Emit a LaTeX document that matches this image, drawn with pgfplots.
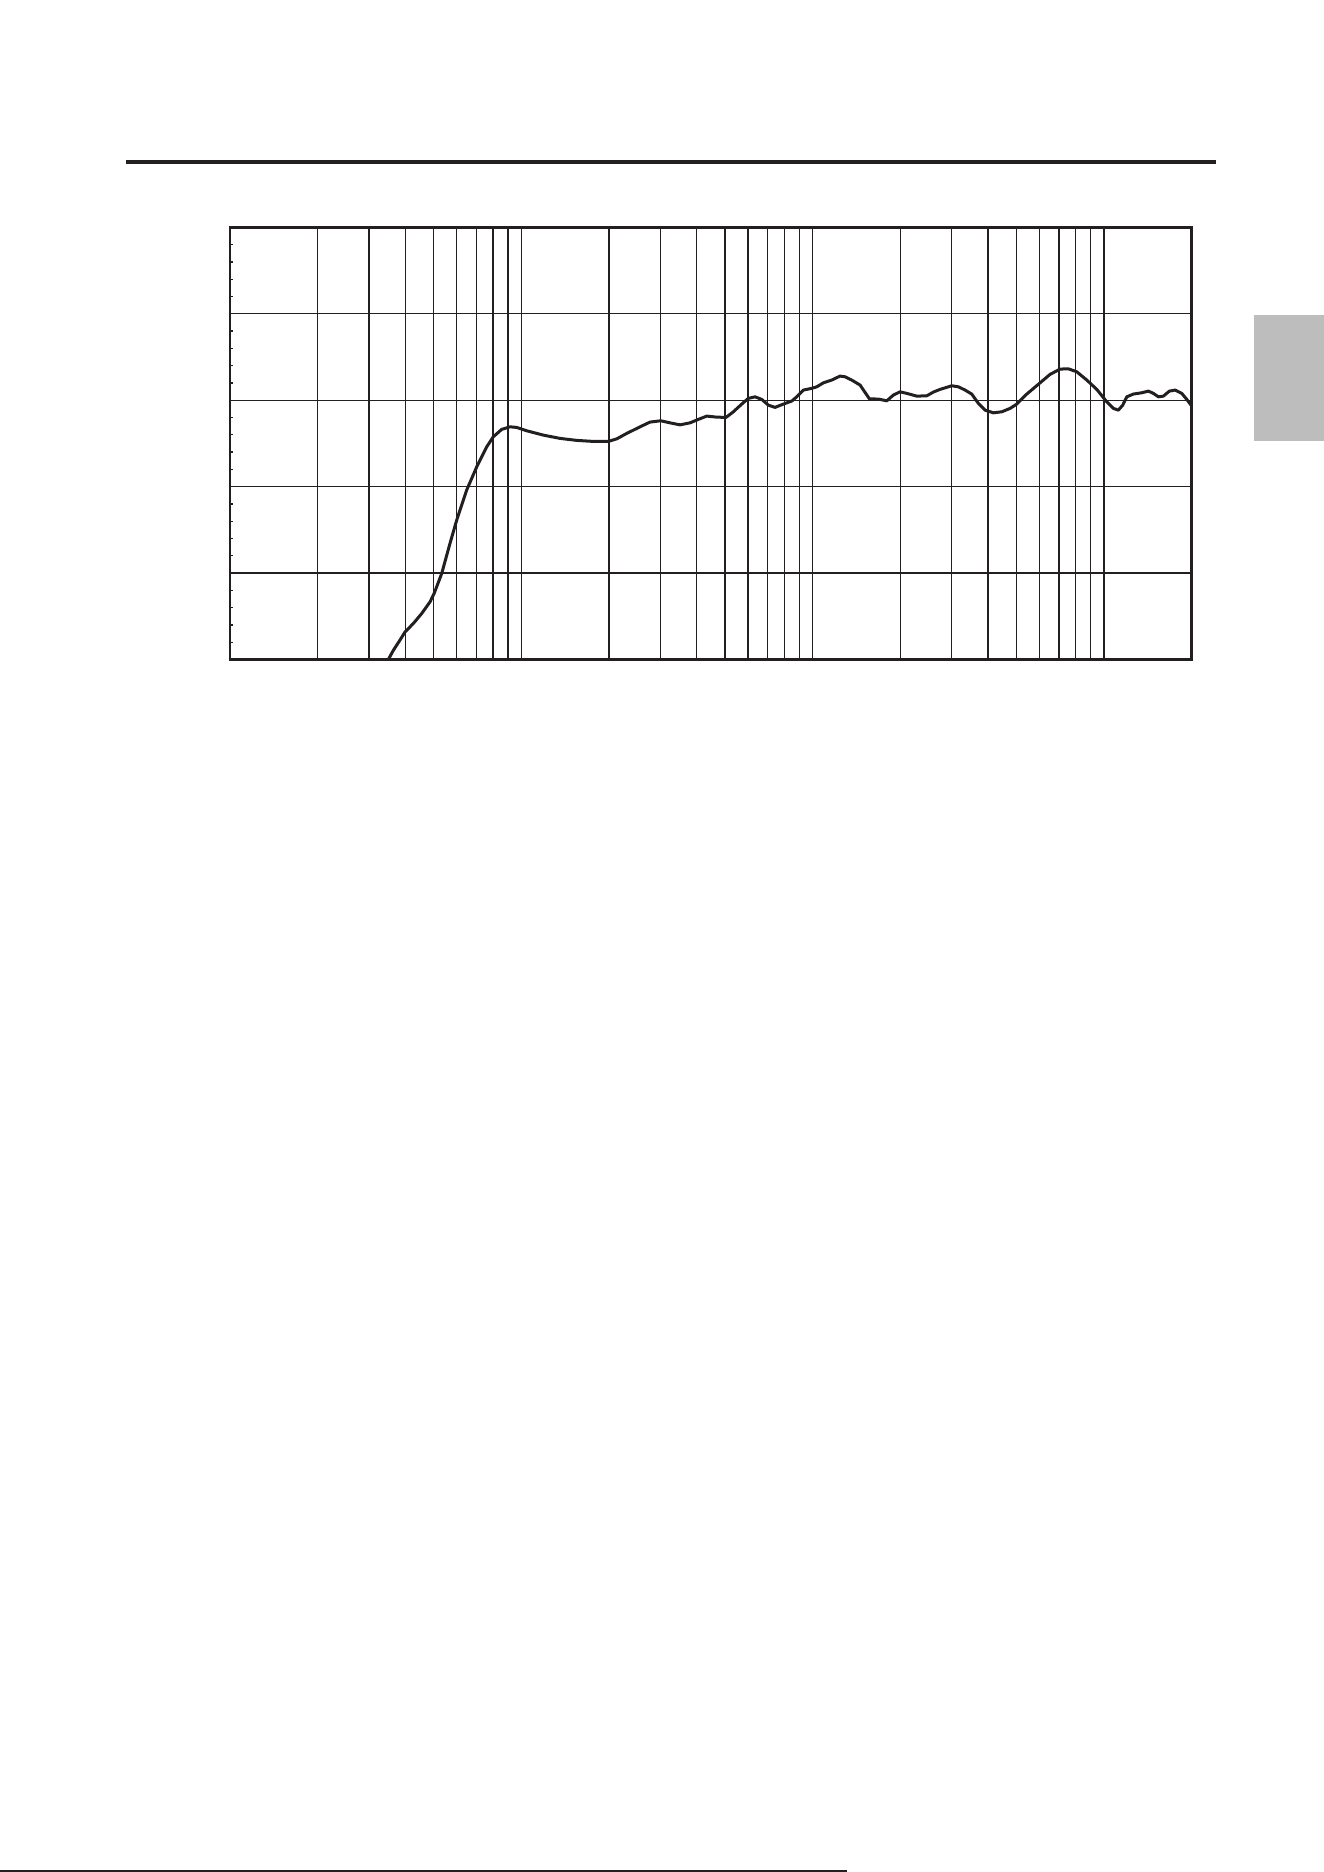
\documentclass[border=0pt]{standalone}
\usepackage{pgfplots}
\pgfplotsset{compat=1.18}
\usepackage{pgfplotstable}

\definecolor{ink}{RGB}{35,31,32}
\definecolor{tab}{RGB}{189,189,189}

% measured response, frequency (Hz) / level (dB)
\pgfplotstableread{
f      db
34.95  -30.00
36.4   -28.92
38.3   -27.77
39.9   -26.81
42.6   -25.83
45.5   -24.68
48.6   -23.33
50.2   -22.36
53.3   -20.05
56.9   -16.57
60.0   -13.88
64.9   -10.41
70.3   -7.71
76.1   -5.39
80.1   -4.24
85.6   -3.38
91.5   -3.08
96.4   -3.15
104.4  -3.54
119.0  -4.04
135.8  -4.42
155.0  -4.65
176.7  -4.77
198.9  -4.77
212.7  -4.47
230.1  -3.84
255.6  -3.08
276.6  -2.53
301.0  -2.38
324.0  -2.62
350.6  -2.85
379.4  -2.62
405.2  -2.22
433.0  -1.84
468.6  -1.96
504.3  -1.99
534.3  -1.34
571.0  -0.45
601.6   0.21
634.3   0.39
668.8   0.09
704.6  -0.57
742.9  -0.83
793.3  -0.45
847.9  -0.10
881.9   0.39
929.2   1.17
992.9   1.37
1033    1.55
1088.5  2.01
1163    2.33
1242    2.79
1292    2.71
1362    2.33
1455    1.75
1566    0.16
1681    0.13
1797   -0.07
1893    0.59
1995    0.97
2104    0.79
2278    0.47
2465    0.51
2597    0.94
2737    1.25
3003    1.67
3164    1.55
3337    1.17
3517    0.71
3706   -0.37
3907   -1.15
4172   -1.46
4459   -1.34
4761   -0.95
5019   -0.45
5433    0.71
6035    2.01
6531    2.99
7069    3.60
7548    3.63
8064    3.29
8730    2.33
9447    1.25
10224  -0.19
10772  -0.95
11204  -1.15
11600  -0.57
11975   0.39
12617   0.71
13484   0.86
14205   1.05
14777   0.79
15375   0.39
15993   0.47
16770   1.05
17542   1.17
18496   0.79
19243   0.09
20010  -0.68
}\response

\begin{document}
\begin{tikzpicture}[x=0.3pt,y=-0.3pt]
% page frame
\path[use as bounding box] (0,0) rectangle (1324,1872);
% header rule
\fill[ink] (126,160) rectangle (1216,164);
% side tab
\fill[tab] (1254,315) rectangle (1324,441);
% footer rule
\fill[ink] (0,1869.5) rectangle (847,1872);

\begin{axis}[
    at={(69pt,-197.85pt)},
    anchor=south west,
    scale only axis,
    width=288.5pt,
    height=129.66pt,
    xmode=log,
    xmin=10, xmax=20000,
    ymin=-30, ymax=20,
    log basis x=10,
    xtick={10,100,1000,10000},
    minor xtick={20,30,40,50,60,70,80,90,200,300,400,500,600,700,800,900,2000,3000,4000,5000,6000,7000,8000,9000},
    ytick={-30,-20,...,20},
    minor y tick num=4,
    xticklabels={},
    yticklabels={},
    xmajorgrids=true,
    xminorgrids=true,
    ymajorgrids=true,
    yminorgrids=false,
    tick align=inside,
    xtick pos=bottom,
    ytick pos=left,
    major tick length=0pt,
    minor tick length=0.8pt,
    tick style={ink, line width=0.4pt},
    major grid style={ink, line width=0.4pt},
    minor grid style={ink, line width=0.4pt},
    axis line style={ink, line width=0.75pt},
    clip=true,
]
\addplot[ink, line width=0.9pt, line join=round, line cap=round] table[x=f, y=db] {\response};
\end{axis}
\end{tikzpicture}
\end{document}
